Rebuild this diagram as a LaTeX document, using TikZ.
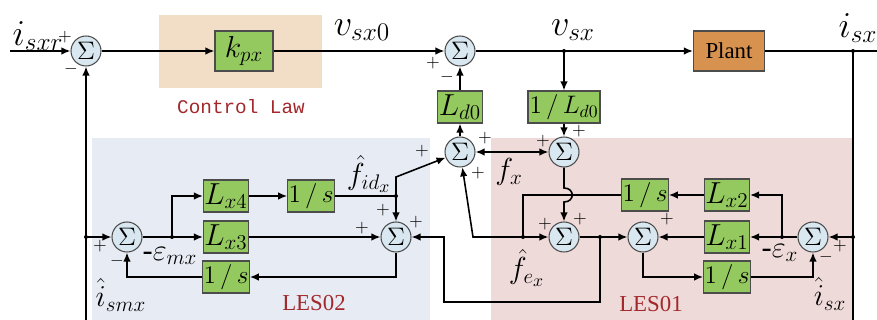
\documentclass[tikz,border=0pt]{standalone}
\usepackage{fontspec}
\setmainfont{Liberation Serif}
\setmonofont{Liberation Mono}
\usetikzlibrary{arrows.meta}
\definecolor{blockfill}{HTML}{93C95E}
\definecolor{sumfill}{HTML}{D9E8F0}
\definecolor{lawbg}{HTML}{F2DEC6}
\definecolor{plantfill}{HTML}{D8924F}
\definecolor{lesbluebg}{HTML}{E7EBF3}
\definecolor{lesredbg}{HTML}{EFDADA}
\definecolor{labelred}{HTML}{A3282C}

\begin{document}
\begin{tikzpicture}[x=0.02cm,y=-0.02cm,
    block/.style={draw=black!70,line width=0.6pt,fill=blockfill,minimum width=0.9cm,minimum height=0.64cm,inner sep=0.5pt,font=\LARGE},
    plantbox/.style={draw=black!70,line width=0.6pt,fill=plantfill,minimum width=1.42cm,minimum height=0.8cm,font=\fontsize{13}{15}\selectfont},
    sumnode/.style={circle,draw=black!70,line width=0.6pt,fill=sumfill,minimum size=0.6cm,inner sep=0pt,font=\Large},
    sig/.style={font=\huge,inner sep=0pt},
    lbl/.style={font=\LARGE,inner sep=0pt},
    sgn/.style={font=\normalsize,inner sep=0pt},
    redtxt/.style={text=labelred,inner sep=0pt},
    wire/.style={line width=0.9pt},
    arrow/.style={-{Latex[length=1.8mm,width=1.5mm]},line width=0.9pt},
    biarrow/.style={{Latex[length=1.8mm,width=1.5mm]}-{Latex[length=1.8mm,width=1.5mm]},line width=0.9pt}
  ]
  \useasboundingbox (0,0) rectangle (877,320);
  % background panels
  \fill[lawbg] (159,15) rectangle (322,88);
  \fill[lesbluebg] (92,138) rectangle (430,320);
  \fill[lesredbg] (491,138) rectangle (853,320);
  \node[redtxt,font=\fontsize{11}{13}\ttfamily] (law) at (241,107) {Control Law};
  \node[redtxt,font=\fontsize{13}{15}\selectfont] (les2) at (314,303) {LES02};
  \node[redtxt,font=\fontsize{13}{15}\selectfont] (les1) at (651,304) {LES01};

  % main loop
  \coordinate (in) at (10,51);
  \coordinate (out) at (877,51);
  \node[sumnode] (s1) at (86,51) {$\Sigma$};
  \node[block,minimum width=1.16cm,minimum height=0.8cm] (kpx) at (244,51) {$k_{px}$};
  \node[sumnode] (s2) at (460,51) {$\Sigma$};
  \node[plantbox] (plant) at (729,51) {Plant};
  \coordinate (jv) at (564,51);
  \coordinate (ji) at (853,51);
  \coordinate (jr) at (853,237);
  \coordinate (jl) at (86,237);
  \coordinate (br) at (853,324);
  \coordinate (bl) at (86,324);
  \draw[arrow] (in) -- (s1);
  \draw[arrow] (s1) -- (kpx);
  \draw[arrow] (kpx) -- (s2);
  \draw[arrow] (s2) -- (plant);
  \draw[wire] (plant) -- (out);
  \draw[wire] (ji) -- (br) -- (bl);
  \draw[arrow] (bl) -- (s1);

  % disturbance compensation
  \node[block] (ld) at (460,107) {$L_{d0}$};
  \node[block,minimum width=1.44cm,font=\Large] (ild) at (564,107) {$1\,/\,L_{d0}$};
  \node[sumnode] (sg) at (460,152) {$\Sigma$};
  \node[sumnode] (sh) at (564,152) {$\Sigma$};
  \node[sumnode] (se) at (564,237) {$\Sigma$};
  \coordinate (hop1) at (564,188);
  \coordinate (hop2) at (564,202);
  \draw[arrow] (sg) -- (ld);
  \draw[arrow] (ld) -- (s2);
  \draw[arrow] (jv) -- (ild);
  \draw[arrow] (ild) -- (sh);
  \draw[biarrow] (sg) -- (sh);
  \draw[arrow] (sh) -- (hop1) .. controls (575,188) and (575,202) .. (hop2) -- (se);

  % LES02
  \node[sumnode] (sm) at (127,237) {$\Sigma$};
  \node[block] (lx4) at (226,196) {$L_{x4}$};
  \node[block] (lx3) at (226,237) {$L_{x3}$};
  \node[block,font=\Large] (im) at (226,277) {$1\,/\,s$};
  \node[block,font=\Large] (ifd) at (311,196) {$1\,/\,s$};
  \node[sumnode] (sf) at (396,237) {$\Sigma$};
  \coordinate (jm) at (172,237);
  \coordinate (jf) at (396,196);
  \coordinate (jf2) at (396,177);
  \draw[arrow] (jl) -- (sm);
  \draw[arrow] (sm) -- (lx3);
  \draw[arrow] (jm) |- (lx4);
  \draw[arrow] (lx4) -- (ifd);
  \draw[wire] (ifd) -- (jf);
  \draw[arrow] (jf) -- (sf);
  \draw[arrow] (jf) -- (jf2) -- (sg);
  \draw[arrow] (lx3) -- (sf);
  \draw[arrow] (sf) |- (im);
  \draw[arrow] (im) -| (sm);

  % LES01
  \node[sumnode] (sx) at (643,237) {$\Sigma$};
  \node[sumnode] (sz) at (813,237) {$\Sigma$};
  \node[block] (lx2) at (727,195) {$L_{x2}$};
  \node[block] (lx1) at (727,237) {$L_{x1}$};
  \node[block,font=\Large] (ix) at (727,277) {$1\,/\,s$};
  \node[block,font=\Large] (ife) at (645,195) {$1\,/\,s$};
  \coordinate (je) at (523,237);
  \coordinate (jd) at (473,237);
  \coordinate (jo) at (600,237);
  \coordinate (jz) at (782,237);
  \coordinate (jb) at (444,302);
  \draw[arrow] (jr) -- (sz);
  \draw[wire] (sz) -- (jz);
  \draw[arrow] (jz) -- (lx1);
  \draw[arrow] (jz) |- (lx2);
  \draw[arrow] (lx2) -- (ife);
  \draw[arrow] (lx1) -- (sx);
  \draw[wire] (ife) -| (je);
  \draw[arrow] (je) -- (se);
  \draw[arrow] (je) -- (jd) -- (sg);
  \draw[wire] (se) -- (jo);
  \draw[arrow] (jo) -- (sx);
  \draw[arrow] (jo) |- (jb) |- (sf);
  \draw[arrow] (sx) |- (ix);
  \draw[arrow] (ix) -| (sz);

  % junction dots
  \foreach \j in {jv,ji,jr,jl,jm,jf,je,jo,jz}
    \fill (\j) circle (2);

  % signals
  \node[sig] (isxr) at (38,36) {$i_{sxr}$};
  \node[sig] (vsx0) at (362,30) {$v_{sx0}$};
  \node[sig] (vsx) at (573,30) {$v_{sx}$};
  \node[sig] (isx) at (858,28) {$i_{sx}$};
  \node[lbl] (fid) at (369,174) {$\hat{f}_{id_x}$};
  \node[lbl] (fx) at (509,172) {$f_x$};
  \node[lbl] (fe) at (527,268) {$\hat{f}_{e_x}$};
  \node[lbl] (emx) at (170,256) {-$\varepsilon_{mx}$};
  \node[lbl] (ex) at (780,253) {-$\varepsilon_x$};
  \node[lbl] (ismx) at (121,295) {$\hat{i}_{smx}$};
  \node[lbl] (isxh) at (830,294) {$\hat{i}_{sx}$};

  % signs
  \node[sgn] (s1p) at (65,37) {$+$};
  \node[sgn] (s1m) at (71,69) {$-$};
  \node[sgn] (s2p) at (433,63) {$+$};
  \node[sgn] (s2m) at (447,77) {$-$};
  \node[sgn] (sgp1) at (422,151) {$+$};
  \node[sgn] (sgp2) at (485,138) {$+$};
  \node[sgn] (sgp3) at (478,173) {$+$};
  \node[sgn] (shp1) at (543,141) {$+$};
  \node[sgn] (shp2) at (579,131) {$+$};
  \node[sgn] (sep1) at (545,224) {$+$};
  \node[sgn] (sep2) at (580,219) {$+$};
  \node[sgn] (sfp1) at (362,228) {$+$};
  \node[sgn] (sfp2) at (383,210) {$+$};
  \node[sgn] (sfp3) at (416,222) {$+$};
  \node[sgn] (smp) at (100,246) {$+$};
  \node[sgn] (smm) at (117,261) {$-$};
  \node[sgn] (sxp) at (667,219) {$+$};
  \node[sgn] (szp) at (840,246) {$+$};
  \node[sgn] (szm) at (826,257) {$-$};
\end{tikzpicture}
\end{document}
